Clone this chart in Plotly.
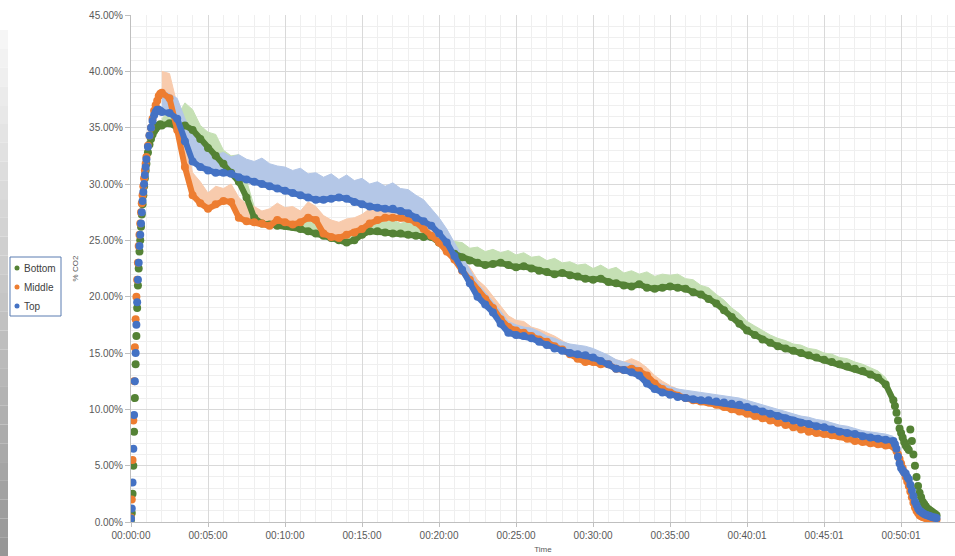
import plotly.graph_objects as go

# ---------------- data ----------------
time_min = [
    0.0, 0.05, 0.1, 0.15, 0.2, 0.25, 0.3, 0.35, 0.4, 0.45, 0.5, 0.55, 0.6, 0.65, 0.7, 0.75, 0.8, 0.85, 0.9, 0.95, 1.0,
    1.1, 1.2, 1.3, 1.4, 1.5, 1.6, 1.7, 1.8, 1.9,
    2.0, 2.5, 3.0, 3.5, 4.0, 4.5, 5.0, 5.5, 6.0, 6.5,
    7.0, 7.5, 8.0, 8.5, 9.0, 9.5, 10.0, 10.5, 11.0, 11.5,
    12.0, 12.5, 13.0, 13.5, 14.0, 14.5, 15.0, 15.5, 16.0, 16.5,
    17.0, 17.5, 18.0, 18.5, 19.0, 19.5, 20.0, 20.5, 21.0, 21.5,
    22.0, 22.5, 23.0, 23.5, 24.0, 24.5, 25.0, 25.5, 26.0, 26.5,
    27.0, 27.5, 28.0, 28.5, 29.0, 29.5, 30.0, 30.5, 31.0, 31.5,
    32.0, 32.5, 33.0, 33.5, 34.0, 34.5, 35.0, 35.5, 36.0, 36.5,
    37.0, 37.5, 38.0, 38.5, 39.0, 39.5, 40.0, 40.5, 41.0, 41.5,
    42.0, 42.5, 43.0, 43.5, 44.0, 44.5, 45.0, 45.5, 46.0, 46.5,
    47.0, 47.5, 48.0, 48.5, 49.0, 49.5,
    49.6, 49.7, 49.8, 49.9, 50.0, 50.1, 50.2, 50.3, 50.4, 50.5, 50.6, 50.7, 50.8, 50.9,
    51.0, 51.1, 51.2, 51.3, 51.4, 51.5, 51.6, 51.7, 51.8, 51.9, 52.0, 52.1, 52.2, 52.3,
]

bottom = [
    0.2, 0.8, 2.5, 5.0, 8.0, 11.0, 14.0, 16.5, 19.0, 21.0, 22.5, 24.0, 25.0, 26.2, 27.3, 28.2, 29.0, 29.8, 30.5, 31.2, 31.8,
    32.8, 33.5, 34.0, 34.4, 34.7, 34.9, 35.1, 35.2, 35.3,
    35.2, 35.4, 35.0, 35.2, 34.8, 34.0, 33.2, 32.5, 31.8, 31.0,
    30.2, 28.8, 27.0, 26.5, 26.4, 26.3, 26.3, 26.2, 26.0, 25.8,
    25.6, 25.4, 25.2, 25.0, 24.8, 25.0, 25.5, 25.8, 25.8, 25.7,
    25.6, 25.6, 25.5, 25.4, 25.3, 25.3, 24.8, 24.2, 23.8, 23.5,
    23.2, 23.0, 22.8, 22.9, 23.0, 22.8, 22.6, 22.7, 22.5, 22.3,
    22.2, 22.0, 22.1, 21.9, 21.8, 21.6, 21.5, 21.6, 21.3, 21.2,
    21.0, 20.9, 21.1, 20.8, 20.7, 20.8, 20.9, 20.8, 20.7, 20.4,
    20.2, 19.8, 19.4, 18.8, 18.2, 17.6, 17.0, 16.6, 16.2, 15.9,
    15.6, 15.4, 15.2, 15.0, 14.8, 14.6, 14.4, 14.2, 14.0, 13.8,
    13.6, 13.4, 13.1, 12.8, 12.2, 10.8,
    10.3, 9.7, 9.0, 8.3, 7.9, 7.5, 7.1, 6.8, 6.6, 6.4, 8.2, 7.2, 6.0, 5.0,
    4.0, 3.2, 2.6, 2.2, 1.8, 1.6, 1.4, 1.2, 1.1, 1.0, 0.9, 0.8, 0.7, 0.6,
]

middle = [
    0.4, 2.0, 5.5, 9.0, 12.5, 15.5, 18.0, 20.0, 21.5, 23.0, 24.5, 25.5, 26.5, 27.5, 28.3, 29.0, 29.8, 30.5, 31.2, 31.8, 32.4,
    33.4, 34.3, 35.0, 35.8, 36.5, 37.0, 37.4, 37.8, 38.0,
    38.1, 37.6, 34.8, 31.5, 29.0, 28.3, 27.8, 28.2, 28.5, 28.4,
    27.0, 26.7, 26.6, 26.5, 26.3, 26.8, 26.6, 26.4, 26.6, 27.0,
    26.8, 25.6, 25.3, 25.2, 25.5, 25.7, 26.0, 26.5, 26.8, 27.0,
    27.0, 27.0, 26.9, 26.6, 26.0, 25.4, 24.8, 24.0, 23.3, 22.3,
    21.5, 20.5, 19.8, 19.0, 18.0, 17.3, 17.0, 16.8, 16.5, 16.2,
    16.0, 15.6, 15.3, 14.9, 14.5, 14.2, 14.2, 14.0, 14.0, 13.6,
    13.5, 13.6, 13.4, 13.0, 12.3, 11.8, 11.5, 11.2, 11.0, 10.8,
    10.7, 10.6, 10.4, 10.2, 10.0, 9.8, 9.6, 9.4, 9.2, 9.0,
    8.8, 8.6, 8.4, 8.2, 8.0, 7.9, 7.8, 7.7, 7.6, 7.4,
    7.2, 7.1, 7.0, 6.9, 6.8, 6.7,
    6.6, 6.3, 6.0, 5.6, 5.2, 4.8, 4.4, 4.0, 3.6, 3.2, 2.7, 2.2, 1.7, 1.3,
    1.0, 0.8, 0.6, 0.5, 0.45, 0.4, 0.35, 0.3, 0.3, 0.3, 0.25, 0.2, 0.2, 0.2,
]

top = [
    0.3, 1.2, 3.5, 6.5, 9.5, 12.5, 15.0, 17.5, 19.5, 21.5, 23.0, 24.5, 25.5, 26.5, 27.5, 28.5, 29.3, 30.0, 30.8, 31.5, 32.2,
    33.3, 34.3, 35.0, 35.6, 36.1, 36.4, 36.6, 36.6, 36.5,
    36.4, 36.3, 35.8, 33.8, 32.0, 31.5, 31.2, 31.0, 31.0, 30.9,
    30.6, 30.4, 30.2, 30.0, 29.8, 29.6, 29.4, 29.2, 29.0, 28.8,
    28.6, 28.6, 28.7, 28.8, 28.7, 28.4, 28.2, 28.0, 27.9, 27.8,
    27.8, 27.6, 27.4, 27.0, 26.7, 26.3, 25.6, 24.8, 23.6, 22.4,
    21.2, 20.0, 19.3, 18.6, 17.6, 16.8, 16.6, 16.5, 16.3, 16.0,
    15.7, 15.4, 15.2, 15.0, 14.9, 14.8, 14.6, 14.3, 14.0, 13.6,
    13.5, 13.3, 13.0, 12.3, 11.8, 11.5, 11.3, 11.1, 11.0, 10.9,
    10.8, 10.8, 10.7, 10.6, 10.5, 10.4, 10.2, 10.0, 9.8, 9.6,
    9.4, 9.2, 9.0, 8.8, 8.7, 8.5, 8.4, 8.2, 8.0, 7.9,
    7.8, 7.6, 7.5, 7.4, 7.3, 7.2,
    6.9, 6.5, 5.8, 5.2, 4.8, 4.6, 4.4, 4.3, 4.0, 3.8, 3.3, 2.8, 2.3, 1.8,
    1.5, 1.2, 1.0, 0.9, 0.8, 0.7, 0.65, 0.6, 0.55, 0.5, 0.45, 0.4, 0.4, 0.35,
]

# upper envelope (pale band) for the 2.0 - 49.5 min readings
bottom_upper = [
    35.8, 36.5, 36.0, 37.2, 36.6, 35.2, 34.6, 34.4, 33.0, 32.5,
    32.6, 30.4, 28.0, 27.3, 27.0, 27.2, 26.9, 27.1, 26.8, 26.7,
    26.5, 26.6, 26.2, 26.5, 26.0, 26.2, 26.6, 26.9, 27.0, 26.6,
    26.8, 26.5, 26.7, 26.3, 26.4, 26.1, 25.9, 25.3, 24.9, 24.8,
    24.3, 24.4, 24.0, 24.2, 23.9, 24.1, 23.7, 23.9, 23.5, 23.6,
    23.2, 23.4, 23.0, 23.1, 22.8, 22.9, 22.5, 22.8, 22.4, 22.6,
    22.1, 22.3, 22.0, 22.2, 21.8, 22.0, 21.9, 22.0, 21.6, 21.5,
    21.0, 20.8, 20.2, 19.7, 19.0, 18.5, 17.8, 17.4, 17.0, 16.6,
    16.3, 16.1, 15.8, 15.7, 15.4, 15.3, 15.0, 14.9, 14.6, 14.5,
    14.2, 14.0, 13.7, 13.4, 12.8, 11.3,
]
middle_upper = [
    40.0, 39.8, 37.0, 34.0, 31.0, 30.2, 29.2, 29.8, 29.6, 30.0,
    28.8, 28.2, 28.0, 27.6, 27.8, 28.3, 27.9, 28.0, 27.6, 28.4,
    28.0, 27.2, 26.8, 26.6, 26.9, 27.0, 27.3, 27.8, 28.0, 28.2,
    28.3, 28.0, 28.1, 27.6, 27.2, 26.5, 25.9, 25.0, 24.3, 23.2,
    22.6, 21.5, 20.9, 20.0, 19.2, 18.3, 17.9, 17.8, 17.3, 17.1,
    16.8, 16.5, 16.1, 15.7, 15.2, 15.0, 14.9, 14.8, 14.7, 14.4,
    14.2, 14.5, 14.2, 13.7, 13.0, 12.5, 12.1, 11.8, 11.6, 11.3,
    11.2, 11.1, 10.9, 10.7, 10.5, 10.3, 10.1, 9.9, 9.7, 9.5,
    9.3, 9.1, 8.9, 8.7, 8.5, 8.4, 8.3, 8.2, 8.1, 7.9,
    7.7, 7.6, 7.5, 7.4, 7.3, 7.1,
]
top_upper = [
    38.3, 38.0, 37.6, 35.8, 34.5, 33.6, 33.0, 32.6, 32.8, 32.4,
    32.6, 32.2, 32.0, 32.3, 31.8, 31.6, 31.5, 31.2, 31.4, 30.9,
    31.0, 30.6, 30.9, 30.4, 30.8, 30.3, 30.5, 30.0, 30.2, 29.8,
    30.1, 29.6, 29.5, 29.0, 28.6, 27.8, 27.0, 26.0, 24.8, 23.6,
    22.4, 21.2, 20.4, 19.6, 18.7, 17.8, 17.5, 17.3, 17.2, 16.9,
    16.5, 16.3, 16.0, 15.8, 15.7, 15.6, 15.4, 15.1, 14.8, 14.4,
    14.2, 14.0, 13.7, 13.1, 12.5, 12.2, 12.0, 11.8, 11.7, 11.6,
    11.5, 11.4, 11.3, 11.2, 11.1, 11.0, 10.8, 10.6, 10.4, 10.2,
    10.0, 9.8, 9.6, 9.4, 9.3, 9.1, 9.0, 8.8, 8.6, 8.5,
    8.3, 8.1, 8.0, 7.9, 7.8, 7.6,
]

series_names = ["Bottom", "Middle", "Top"]
x_tick_vals = [0, 5, 10, 15, 20, 25, 30, 35, 40, 45, 50]
x_tick_text = ["00:00:00", "00:05:00", "00:10:00", "00:15:00", "00:20:00", "00:25:00",
               "00:30:00", "00:35:00", "00:40:01", "00:45:01", "00:50:01"]
y_tick_vals = [0, 5, 10, 15, 20, 25, 30, 35, 40, 45]
y_tick_text = ["0.00%", "5.00%", "10.00%", "15.00%", "20.00%", "25.00%",
               "30.00%", "35.00%", "40.00%", "45.00%"]

# ---------------- styling ----------------
dark = {"Bottom": "#548235", "Middle": "#ED7D31", "Top": "#4472C4"}
pale = {"Bottom": "#C5E0B4", "Middle": "#F8CBAD", "Top": "#B4C7E7"}
MID0, MID1 = 30, 126  # slice of readings covered by the pale band / connecting line

vals = {"Bottom": bottom, "Middle": middle, "Top": top}
uppers = {"Bottom": bottom_upper, "Middle": middle_upper, "Top": top_upper}

fig = go.Figure()
mid_t = time_min[MID0:MID1]

for name in series_names:
    fig.add_trace(go.Scatter(x=mid_t, y=vals[name][MID0:MID1], mode="lines",
                             line=dict(width=0, color=pale[name]), showlegend=False, hoverinfo="skip"))
    fig.add_trace(go.Scatter(x=mid_t, y=uppers[name], mode="lines", fill="tonexty",
                             fillcolor=pale[name], line=dict(width=1, color=pale[name]),
                             showlegend=False, hoverinfo="skip"))

for name in series_names:
    fig.add_trace(go.Scatter(x=mid_t, y=vals[name][MID0:MID1], mode="lines",
                             line=dict(width=6, color=dark[name]), showlegend=False, hoverinfo="skip"))
    fig.add_trace(go.Scatter(x=time_min, y=vals[name], mode="markers", name=name,
                             marker=dict(size=8, color=dark[name]), showlegend=False))

PL, PT, PW, PH = 131, 15, 824, 507


def px2x(px):
    return (px - PL) / PW


def py2y(py):
    return (PT + PH - py) / PH


shapes = []
# soft grey strip on the left edge
n = 28
for i in range(n):
    y0p = 30 + (556 - 30) * i / n
    y1p = 30 + (556 - 30) * (i + 1) / n
    g = int(248 - (248 - 150) * (i + 0.5) / n)
    shapes.append(dict(type="rect", xref="paper", yref="paper", x0=px2x(0), x1=px2x(8),
                       y0=py2y(y1p), y1=py2y(y0p), line=dict(width=0),
                       fillcolor=f"rgb({g},{g},{g})", layer="below"))

# legend box
shapes.append(dict(type="rect", xref="paper", yref="paper", x0=px2x(10), x1=px2x(61),
                   y0=py2y(316), y1=py2y(257), line=dict(width=1, color="#5B7DB1"),
                   fillcolor="white"))
annotations = []
for i, name in enumerate(series_names):
    cy = 268 + i * 19
    shapes.append(dict(type="circle", xref="paper", yref="paper",
                       x0=px2x(14.5), x1=px2x(19.5), y0=py2y(cy + 2.5), y1=py2y(cy - 2.5),
                       line=dict(width=0), fillcolor=dark[name]))
    annotations.append(dict(xref="paper", yref="paper", x=px2x(22), y=py2y(cy), text=name,
                            showarrow=False, xanchor="left", yanchor="middle",
                            font=dict(size=10, color="#404040", family="Liberation Sans")))

axis_font = dict(size=10, color="#595959", family="Liberation Sans")

fig.update_layout(
    width=955, height=556,
    margin=dict(l=PL, r=0, t=PT, b=34),
    paper_bgcolor="white", plot_bgcolor="white",
    shapes=shapes, annotations=annotations,
    showlegend=False,
    font=dict(family="Liberation Sans"),
    xaxis=dict(
        range=[0, 53.5], tickmode="array", tickvals=x_tick_vals, ticktext=x_tick_text,
        showgrid=True, gridcolor="#D9D9D9", gridwidth=1,
        minor=dict(tickmode="linear", tick0=0, dtick=1, showgrid=True, gridcolor="#EFEFEF"),
        ticks="outside", ticklen=4, tickcolor="#BFBFBF",
        showline=True, linecolor="#BFBFBF", zeroline=False, tickfont=axis_font,
        title=dict(text="Time", font=dict(size=8, color="#595959"), standoff=6),
    ),
    yaxis=dict(
        range=[0, 45], tickmode="array", tickvals=y_tick_vals, ticktext=y_tick_text,
        showgrid=True, gridcolor="#D9D9D9", gridwidth=1,
        minor=dict(tickmode="linear", tick0=0, dtick=1, showgrid=True, gridcolor="#EFEFEF"),
        ticks="outside", ticklen=5, tickcolor="#BFBFBF",
        showline=True, linecolor="#BFBFBF", zeroline=False, tickfont=axis_font,
        title=dict(text="% CO2", font=dict(size=8, color="#595959"), standoff=9),
    ),
)

fig.write_html("out.html", config={"displayModeBar": False},
               post_script="document.body.style.margin='0';document.body.style.overflow='hidden';")
